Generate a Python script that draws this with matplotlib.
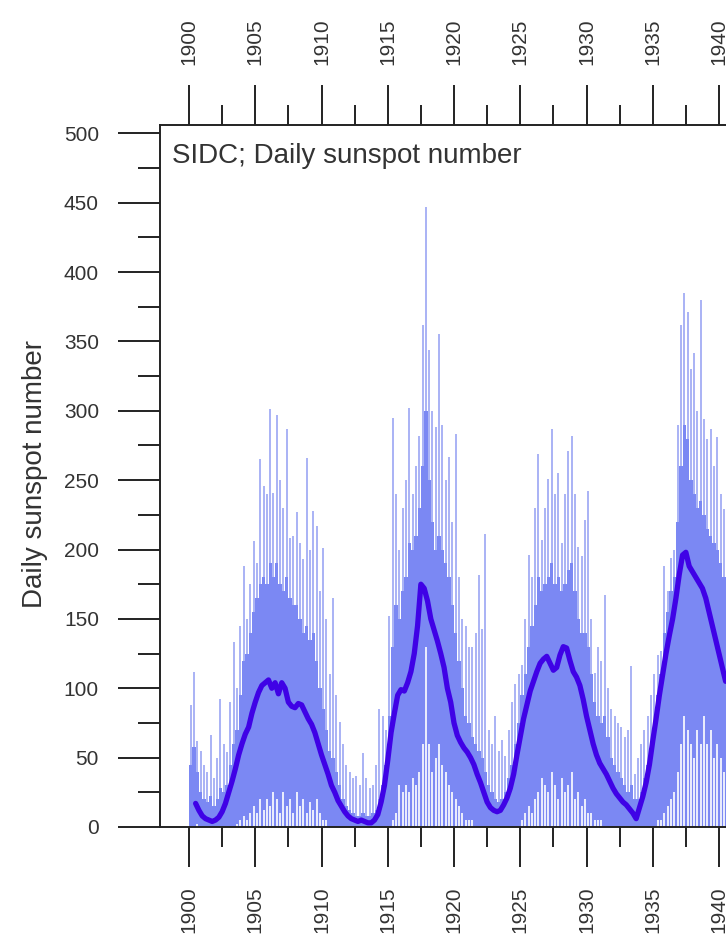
import numpy as np
import matplotlib
matplotlib.use("Agg")
import matplotlib.pyplot as plt
from matplotlib.ticker import MultipleLocator

plt.rcParams["font.family"] = ["Liberation Sans", "DejaVu Sans"]

# Daily sunspot number, summarised per quarter year (start of each quarter)
START_YEAR = 1900.0
STEP = 0.25

# highest daily value in each quarter
daily_max = [
    88, 112, 62, 55,   45, 40, 66, 35,    50, 92, 60, 54,    90, 133, 100, 145,
    188, 150, 175, 206, 190, 265, 246, 240, 301, 241, 297, 250, 230, 287, 208, 210,
    227, 205, 193, 266, 200, 228, 217, 170, 201, 150, 110, 165, 95, 76, 60, 45,
    40, 35, 37, 30,    53, 35, 28, 30,    45, 85, 80, 70,    152, 295, 240, 200,
    230, 250, 302, 240, 260, 282, 362, 447, 344, 300, 288, 355, 290, 250, 267, 220,
    283, 180, 150, 145, 130, 130, 140, 182, 143, 211, 70, 60,  80, 55, 63, 51,
    70, 90, 103, 110,  117, 150, 196, 180, 230, 269, 207, 230, 251, 287, 240, 255,
    205, 240, 271, 282, 240, 202, 195, 221, 242, 150, 111, 130, 120, 167, 100, 85,
    80, 75, 72, 65,    70, 116, 38, 50,   60, 70, 80, 95,    110, 124, 127, 188,
    170, 194, 200, 290, 362, 385, 371, 330, 342, 300, 380, 294, 280, 287, 260, 281,
    240, 229, 220,
]

# level up to which the daily values are densely packed
daily_band = [
    45, 58, 40, 25,    20, 18, 22, 15,    20, 28, 25, 30,    45, 60, 70, 95,
    120, 125, 140, 155, 165, 175, 180, 175, 190, 180, 190, 175, 170, 180, 165, 160,
    160, 150, 140, 145, 135, 140, 120, 100, 85, 70, 55, 50,   40, 30, 20, 15,
    12, 10, 8, 8,      10, 8, 8, 10,      12, 20, 30, 45,    80, 130, 160, 150,
    170, 180, 205, 200, 210, 230, 260, 300, 250, 220, 200, 210, 200, 190, 180, 160,
    140, 120, 100, 80, 75, 65, 60, 55,    50, 40, 30, 25,    20, 18, 20, 25,
    35, 45, 60, 75,    95, 110, 130, 145, 160, 180, 170, 175, 180, 190, 175, 180,
    170, 175, 185, 190, 170, 150, 140, 140, 130, 110, 90, 80,  75, 80, 65, 50,
    45, 40, 35, 30,    25, 30, 20, 20,    25, 35, 45, 55,    75, 95, 110, 140,
    155, 170, 180, 220, 260, 290, 280, 250, 240, 230, 235, 225, 215, 210, 205, 200,
    190, 180, 175,
]

# lowest daily value in each quarter
daily_min = [
    0, 0, 2, 0,        0, 0, 0, 0,        0, 0, 0, 0,        0, 0, 2, 5,
    8, 5, 10, 15,      10, 20, 12, 20,    15, 25, 20, 10,    25, 15, 20, 10,
    25, 15, 20, 10,    18, 12, 20, 10,    5, 5, 0, 0,        0, 0, 0, 0,
    0, 0, 0, 0,        0, 0, 0, 0,        0, 0, 0, 0,        0, 5, 10, 30,
    25, 30, 25, 35,    30, 40, 60, 130,   60, 40, 50, 60,    45, 40, 30, 25,
    20, 15, 10, 5,     5, 5, 0, 0,        0, 0, 0, 0,        0, 0, 0, 0,
    0, 0, 0, 0,        5, 10, 15, 10,     20, 25, 35, 30,    25, 40, 30, 20,
    35, 25, 30, 40,    20, 25, 15, 20,    10, 10, 5, 5,      5, 0, 0, 0,
    0, 0, 0, 0,        0, 0, 0, 0,        0, 0, 0, 0,        0, 5, 5, 10,
    15, 20, 25, 40,    60, 80, 70, 60,    50, 70, 60, 80,    60, 70, 50, 60,
    50, 40, 40,
]

# running mean of the daily number
smooth_start = 1900.5
smoothed = [
    17, 12, 8, 6, 5, 4, 5, 7, 11, 17,
    25, 33, 42, 52, 60, 67, 72, 82, 90, 97,
    102, 104, 106, 100, 104, 96, 104, 100, 90, 87,
    86, 89, 88, 83, 78, 74, 68, 60, 52, 45,
    38, 30, 25, 19, 15, 11, 8, 6, 5, 4,
    5, 4, 3, 3, 5, 9, 18, 30, 48, 68,
    82, 95, 99, 98, 104, 112, 125, 145, 175, 172,
    163, 150, 142, 134, 125, 115, 100, 90, 75, 66,
    61, 57, 54, 50, 45, 38, 32, 25, 18, 14,
    12, 11, 12, 16, 21, 28, 38, 52, 65, 78,
    88, 98, 105, 112, 118, 121, 123, 118, 113, 115,
    124, 130, 129, 120, 112, 108, 102, 92, 80, 70,
    60, 52, 46, 42, 38, 33, 28, 24, 21, 18,
    16, 13, 10, 6, 14, 22, 32, 45, 62, 78,
    95, 110, 125, 138, 150, 165, 182, 196, 198, 188,
    184, 180, 176, 172, 165, 155, 145, 135, 125, 115,
    105,
]

daily_x = START_YEAR + STEP * np.arange(len(daily_max))
smooth_x = smooth_start + STEP * np.arange(len(smoothed))
hi = np.array(daily_max, dtype=float)
band = np.array(daily_band, dtype=float)
lo = np.array(daily_min, dtype=float)

W, H = 726, 935
fig = plt.figure(figsize=(W / 100, H / 100), dpi=100)
x0_px, y0_px, y1_px = 160, 827, 125
px_per_year = 13.25
year_left = 1900 - (189 - x0_px) / px_per_year
year_right = 1945.0
right_px = 189 + (year_right - 1900) * px_per_year
ax = fig.add_axes([x0_px / W, (H - y0_px) / H, (right_px - x0_px) / W, (y0_px - y1_px) / H])
ax.set_xlim(year_left, year_right)
ax.set_ylim(0, 506)

band_color = "#7b88f3"
spike_color = "#9ba5f4"
mean_color = "#3f02e6"

# isolated high days
ax.vlines(daily_x + STEP / 2, band, hi, color=spike_color, linewidth=1.2, zorder=1)
# dense part of the daily record
ax.bar(daily_x, band, width=STEP, align="edge", color=band_color,
       linewidth=0, zorder=2)
# quarters whose quietest day stayed above zero
gaps = lo > 0
ax.vlines(daily_x[gaps] + STEP / 2, 0, lo[gaps], color="white",
          linewidth=1.2, zorder=2.5)
ax.plot(smooth_x, smoothed, color=mean_color, linewidth=3.8,
        solid_capstyle="round", zorder=3)

# axes frame and ticks
for side in ("left", "bottom", "top", "right"):
    ax.spines[side].set_linewidth(1.4)
    ax.spines[side].set_color("#222222")
    ax.spines[side].set_zorder(4)

ax.xaxis.set_major_locator(MultipleLocator(5))
ax.xaxis.set_minor_locator(MultipleLocator(2.5))
ax.yaxis.set_major_locator(MultipleLocator(50))
ax.yaxis.set_minor_locator(MultipleLocator(25))

ax.tick_params(axis="x", which="major", direction="out", length=29, width=1.4,
               top=True, bottom=True, labeltop=True, labelbottom=True,
               labelrotation=90, labelsize=15, pad=14, colors="#222222",
               labelcolor="#333333")
ax.tick_params(axis="x", which="minor", direction="out", length=14.5, width=1.4,
               top=True, bottom=True, colors="#222222")
ax.tick_params(axis="y", which="major", direction="out", length=30, width=1.4,
               left=True, right=False, labelsize=15, pad=14, colors="#222222",
               labelcolor="#333333")
ax.tick_params(axis="y", which="minor", direction="out", length=16, width=1.4,
               left=True, right=False, colors="#222222")

fig.text(35 / W, 1 - 474 / H, "Daily sunspot number", rotation=90,
         ha="center", va="center", fontsize=20, color="#333333")
fig.text(172 / W, 1 - 163 / H, "SIDC; Daily sunspot number",
         ha="left", va="baseline", fontsize=20, color="#333333")

fig.savefig("out.png", dpi=100)
